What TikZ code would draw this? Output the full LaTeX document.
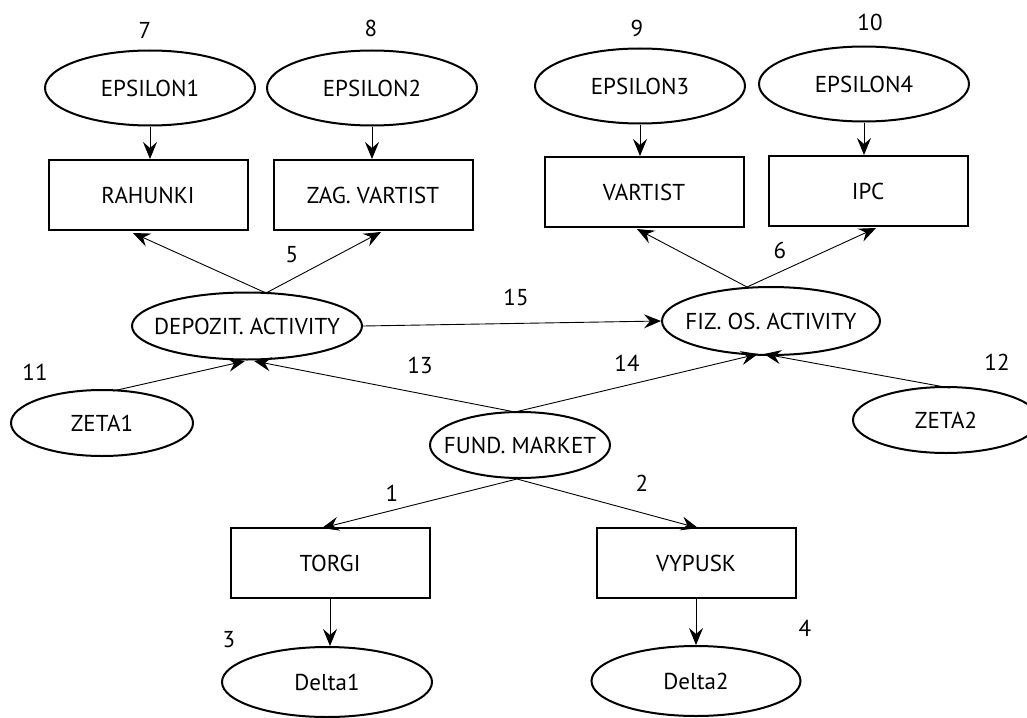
\documentclass[tikz,border=0pt]{standalone}
\usepackage{fontspec}
\setmainfont{PT Sans}
\usetikzlibrary{shapes.geometric,arrows.meta}
\newcommand{\zw}[1]{\makebox[0pt]{#1}}
\begin{document}
\begin{tikzpicture}[x=1pt,y=-1pt,
  every node/.style={font=\fontsize{23}{26}\selectfont},
  ell/.style={draw,ellipse,line width=2pt,inner sep=0pt,minimum width=210pt,minimum height=75pt},
  box/.style={draw,rectangle,line width=2pt,inner sep=0pt,minimum width=199pt,minimum height=70pt},
  num/.style={inner sep=0pt},
  arr/.style={line width=0.9pt,-{Stealth[length=17pt,width=14pt,inset=6pt]}}]
\useasboundingbox (0,0) rectangle (1027,717);
% top ellipses
\node[ell] (e1) at (150,88) {\zw{EPSILON1}};
\node[ell] (e2) at (372,88) {\zw{EPSILON2}};
\node[ell] (e3) at (640,86) {\zw{EPSILON3}};
\node[ell] (e4) at (864,84) {\zw{EPSILON4}};
\node[num] (n7) at (145,30) {7};
\node[num] (n8) at (371,28) {8};
\node[num] (n9) at (637,28) {9};
\node[num] (n10) at (870,22) {10};
% boxes
\node[box] (rah) at (148,195) {RAHUNKI};
\node[box] (zag) at (373,195) {ZAG. VARTIST};
\node[box] (var) at (644,192) {VARTIST};
\node[box] (ipc) at (868,191) {IPC};
% middle
\node[ell,minimum width=230pt,minimum height=67pt] (dep) at (247,326) {\zw{DEPOZIT. ACTIVITY}};
\node[ell,minimum width=218pt,minimum height=68pt] (fiz) at (771,321) {\zw{FIZ. OS. ACTIVITY}};
\node[ell,minimum width=182pt,minimum height=66pt] (z1) at (102,423) {\zw{ZETA1}};
\node[ell,minimum width=186pt,minimum height=66pt] (z2) at (946,420) {\zw{ZETA2}};
\node[ell,minimum width=180pt,minimum height=66pt] (fm) at (520,445) {\zw{FUND. MARKET}};
\node[box] (tor) at (330,563) {TORGI};
\node[box] (vyp) at (696,563) {VYPUSK};
\node[ell,minimum width=210pt,minimum height=70pt] (d1) at (327,682) {\zw{Delta1}};
\node[ell,minimum width=209pt,minimum height=70pt] (d2) at (696,681) {\zw{Delta2}};
% numbers
\node[num] (n5) at (292,255) {5};
\node[num] (n6) at (780,250) {6};
\node[num] (n15) at (516,297) {15};
\node[num] (n11) at (35,372) {11};
\node[num] (n13) at (420,365) {13};
\node[num] (n14) at (627,363) {14};
\node[num] (n12) at (997,362) {12};
\node[num] (n1) at (392,493) {1};
\node[num] (n2) at (642,483) {2};
\node[num] (n3) at (229,640) {3};
\node[num] (n4) at (805,628) {4};
% connector points
\coordinate (dtop) at (266,293);
\coordinate (ftop) at (747,287);
\coordinate (rahb) at (133,233);
\coordinate (zagb) at (381,232);
\coordinate (varb) at (637,229);
\coordinate (ipcb) at (876,228);
\coordinate (depb1) at (245,361);
\coordinate (depb2) at (254,361);
\coordinate (fizb1) at (758,354);
\coordinate (fizb2) at (764,354);
\coordinate (z1t) at (113,391);
\coordinate (z2t) at (950,388);
\coordinate (fmt) at (515,412);
\coordinate (fmb) at (517,479);
\coordinate (tort) at (322,528);
\coordinate (vypt) at (698,528);
% arrows
\draw[arr] (e1.south) -- (e1.south |- rah.north);
\draw[arr] (e2.south) -- (e2.south |- zag.north);
\draw[arr] (e3.south) -- (e3.south |- var.north);
\draw[arr] (e4.south) -- (e4.south |- ipc.north);
\draw[arr] (dtop) -- (rahb);
\draw[arr] (dtop) -- (zagb);
\draw[arr] (ftop) -- (varb);
\draw[arr] (ftop) -- (ipcb);
\draw[arr] (dep.east) -- (fiz.west);
\draw[arr] (z1t) -- (depb1);
\draw[arr] (fmt) -- (depb2);
\draw[arr] (fmt) -- (fizb1);
\draw[arr] (z2t) -- (fizb2);
\draw[arr] (fmb) -- (tort);
\draw[arr] (fmb) -- (vypt);
\draw[arr] (tor.south) -- (tor.south |- d1.north);
\draw[arr] (vyp.south) -- (vyp.south |- d2.north);
\end{tikzpicture}
\end{document}
